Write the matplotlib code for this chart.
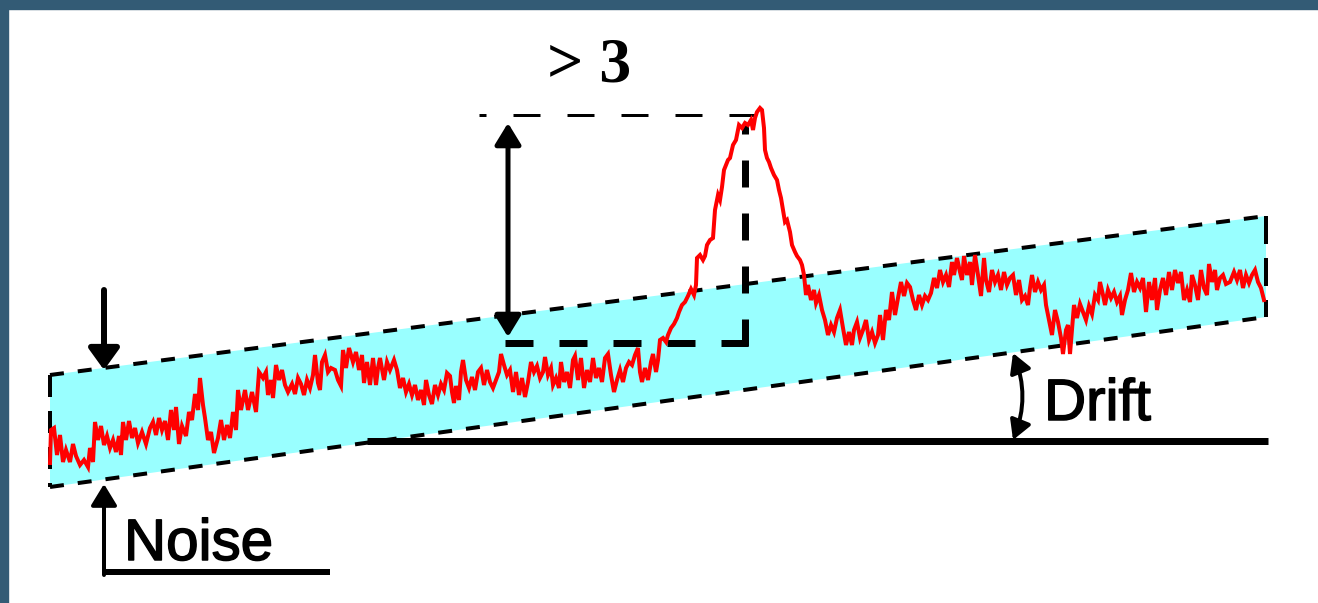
import matplotlib
matplotlib.use("Agg")
import matplotlib.pyplot as plt
import matplotlib.patheffects as pe
from matplotlib.patches import FancyArrowPatch, Rectangle

# ========================
# DATA (pixel units of the original drawing, y grows downward)
# ========================

# noisy detector trace with the peak
trace_x = [
    50, 51, 54, 57, 60, 63, 66, 70, 73, 76, 80, 84, 88, 90, 93, 95, 98, 101, 104, 107,
    110, 113, 116, 119, 121, 123, 126, 129, 132, 135, 138, 142, 146, 150, 153, 156, 159, 162, 165, 168,
    171, 174, 176, 179, 182, 186, 189, 192, 195, 198, 200, 203, 205, 208, 211, 214, 218, 221, 224, 227,
    230, 233, 236, 238, 241, 245, 248, 252, 256, 259, 263, 266, 268, 271,
    273, 276, 279, 282, 285, 288, 292, 295, 298, 301, 304, 307, 310, 313, 315, 318, 320, 322, 325, 328,
    331, 335, 338, 341, 343, 346, 349, 353, 356, 359, 362, 364, 367, 370, 373, 376, 378, 380, 384, 387,
    390, 394, 397, 400, 403, 406, 409, 412, 415, 418, 421, 424, 426, 429, 432, 435, 438, 441, 444, 447,
    450, 452, 454, 456, 459, 461, 463, 466, 469, 472, 475, 478,
    481, 484, 487, 490, 493, 496, 499, 501, 504, 507, 510, 513, 516, 519, 522, 525, 528, 531, 534, 537,
    540, 543, 545, 548, 551, 553, 556, 559, 561, 564, 567, 570, 573, 575, 578, 581, 584, 587, 590, 593,
    596, 599, 602, 605, 608, 611, 614, 617, 620, 623, 626, 629, 632, 635, 638, 640, 642, 645, 648, 651,
    653, 656, 658, 660, 663, 666, 668, 671, 674, 677, 679, 682, 685, 688, 691, 694, 696,
    697, 700, 703, 705, 707, 710, 713, 715, 718, 720, 722, 724, 726, 728, 730, 733, 736, 739, 742, 745,
    748, 751, 753, 755, 757, 760, 762, 764, 765, 767, 769, 771, 774, 777, 779, 781, 783, 785, 787, 790,
    792, 795, 797, 800, 802, 804, 806, 808, 811, 814, 816, 819, 822,
    825, 828, 831, 834, 837, 840, 843, 846, 849, 852, 854, 857, 860, 863, 866, 869, 872, 875, 878, 880,
    883, 886, 889, 892, 895, 898, 901, 904, 907, 910, 913, 916, 919, 922, 925, 928, 931, 934, 937, 940,
    943, 946, 949, 952, 954, 957, 960, 962, 964, 967, 970, 972, 975, 978, 981, 984, 986, 989, 992, 995,
    998, 1001, 1004, 1007, 1010, 1013, 1016, 1019, 1022, 1025, 1028,
    1030, 1032, 1035, 1038, 1041, 1044, 1046, 1049, 1052, 1055, 1058, 1061, 1063, 1066, 1068, 1070, 1072, 1074, 1077, 1080,
    1083, 1086, 1089, 1092, 1095, 1098, 1100, 1103, 1105, 1108, 1111, 1114, 1117, 1120, 1122, 1125, 1128, 1131, 1134, 1137,
    1140, 1143, 1146, 1149, 1152, 1155, 1157, 1160, 1163, 1166, 1169, 1172, 1175, 1178, 1181, 1184, 1187, 1190, 1192, 1195,
    1198, 1201, 1204, 1207, 1209, 1212, 1215, 1217, 1220, 1223, 1226, 1230, 1234, 1237, 1240, 1243, 1246, 1249, 1252, 1255,
    1258, 1261, 1264,
]
trace_y = [
    463, 430, 428, 455, 435, 462, 450, 462, 444, 456, 465, 460, 467, 448, 462, 422, 440, 426, 445, 436,
    448, 440, 452, 436, 455, 422, 440, 421, 438, 428, 443, 432, 444, 428, 422, 435, 418, 430, 421, 440,
    410, 430, 407, 444, 426, 436, 412, 420, 394, 410, 378, 405, 418, 440, 432, 453, 438, 420, 440, 425,
    438, 412, 430, 390, 410, 390, 410, 392, 412, 372, 378, 372, 395, 380,
    398, 365, 380, 370, 385, 392, 384, 394, 378, 384, 395, 380, 388, 375, 355, 383, 390, 362, 355, 372,
    368, 370, 380, 386, 350, 368, 348, 362, 352, 370, 355, 383, 362, 385, 358, 385, 368, 358, 380, 362,
    370, 360, 370, 388, 378, 392, 384, 395, 385, 400, 390, 405, 380, 395, 404, 385, 395, 384, 390, 373,
    376, 392, 403, 386, 400, 372, 360, 380, 388, 377, 390, 372,
    368, 385, 370, 382, 388, 380, 372, 354, 365, 375, 370, 392, 372, 395, 378, 397, 382, 362, 372, 366,
    378, 372, 357, 375, 368, 385, 378, 388, 362, 382, 372, 388, 360, 356, 380, 358, 388, 370, 382, 358,
    378, 368, 382, 358, 354, 375, 392, 380, 370, 382, 368, 362, 365, 355, 348, 372, 382, 368, 380, 362,
    354, 372, 360, 340, 338, 342, 335, 328, 324, 318, 312, 305, 302, 296, 289, 295, 285,
    258, 255, 260, 256, 245, 240, 238, 210, 195, 200, 187, 170, 165, 160, 158, 145, 140, 125, 128, 123,
    125, 120, 130, 118, 112, 108, 110, 128, 150, 158, 162, 168, 175, 180, 190, 198, 210, 222, 220, 232,
    245, 252, 256, 260, 265, 275, 295, 285, 300, 290, 303, 295, 310,
    320, 335, 325, 332, 318, 310, 328, 345, 332, 345, 330, 322, 338, 330, 320, 340, 332, 343, 335, 315,
    340, 310, 320, 292, 315, 298, 282, 296, 283, 287, 300, 310, 295, 305, 296, 300, 293, 278, 288, 270,
    282, 275, 287, 262, 275, 258, 272, 280, 256, 275, 262, 285, 255, 275, 296, 258, 280, 292, 270, 282,
    275, 290, 272, 285, 278, 275, 295, 280, 300, 296, 305,
    288, 275, 292, 282, 290, 285, 305, 320, 335, 310, 322, 338, 354, 330, 325, 354, 330, 305, 318, 304,
    312, 320, 306, 314, 295, 300, 282, 295, 305, 290, 298, 292, 302, 296, 315, 300, 290, 273, 292, 282,
    288, 278, 312, 282, 300, 278, 310, 290, 278, 295, 272, 290, 270, 283, 272, 300, 290, 302, 275, 285,
    300, 270, 288, 295, 264, 282, 270, 290, 278, 275, 284, 282, 272, 280, 270, 288, 275, 283, 275, 270,
    282, 288, 300,
]

# tilted noise band (x, upper y, lower y) at its two ends
band_x = [50, 1266]
band_top = [375, 216]
band_bottom = [487, 317]

# reference baseline and the "> 3" construction
baseline_x = [367, 1268]
baseline_y = 441
peak_level = 115
signal_base = 343
peak_x = 745
arrow_x = 508

# labels
label_noise = "Noise"
label_drift = "Drift"
label_ratio = "> 3"

# ========================
# STYLE
# ========================

W, H = 1318, 603
PX = 0.72  # pixels -> points at dpi 100
BAND_COLOR = "#99ffff"
TRACE_COLOR = "#ff0000"
FRAME_COLOR = "#335b75"

plt.rcParams.update({
    "lines.scale_dashes": False,
    "font.family": ["Liberation Sans", "DejaVu Sans"],
})

fig = plt.figure(figsize=(W / 100, H / 100), dpi=100)
ax = fig.add_axes([0, 0, 1, 1])
ax.set_xlim(0, W)
ax.set_ylim(H, 0)
ax.axis("off")

# frame on top and left
fig.patches.append(Rectangle((0, 1 - 9 / H), 1, 9 / H, transform=fig.transFigure,
                             color=FRAME_COLOR, zorder=10))
fig.patches.append(Rectangle((0, 0), 8 / W, 1, transform=fig.transFigure,
                             color=FRAME_COLOR, zorder=10))

# noise band
poly_x = [band_x[0], band_x[1], band_x[1], band_x[0]]
poly_y = [band_top[0], band_top[1], band_bottom[1], band_bottom[0]]
ax.fill(poly_x, poly_y, color=BAND_COLOR, lw=0, zorder=1)

edge_dash = (0, (14 * PX, 14 * PX))
ax.plot(band_x, band_top, color="black", lw=4 * PX, ls=edge_dash, zorder=2)
ax.plot(band_x, band_bottom, color="black", lw=4 * PX, ls=edge_dash, zorder=2)
ax.plot([band_x[0]] * 2, [band_top[0], band_bottom[0]], color="black", lw=4 * PX,
        ls=(0, (22 * PX, 14 * PX)), zorder=2)
ax.plot([band_x[1]] * 2, [band_top[1], band_bottom[1]], color="black", lw=4 * PX,
        ls=(0, (28 * PX, 14 * PX)), zorder=2)

# baseline
ax.plot(baseline_x, [baseline_y] * 2, color="black", lw=7 * PX,
        solid_capstyle="butt", zorder=2)

# "> 3" construction lines
ax.plot([479, 760], [peak_level] * 2, color="black", lw=3 * PX,
        ls=(20 * PX, (27 * PX, 27 * PX)), zorder=2)
ax.plot([505, peak_x + 3], [signal_base] * 2, color="black", lw=7 * PX,
        ls=(0, (28 * PX, 26 * PX)), zorder=2)
ax.plot([peak_x, peak_x], [signal_base + 3, 124], color="black", lw=7 * PX,
        ls=(0, (27 * PX, 26 * PX)), zorder=2)

# trace
ax.plot(trace_x, trace_y, color=TRACE_COLOR, lw=4 * PX, solid_joinstyle="miter", zorder=3)


def arrow(p0, p1, style, lw, hl, hw, rad=0.0):
    a = FancyArrowPatch(p0, p1, arrowstyle=f"{style},head_length={hl * PX},head_width={hw * PX}",
                        connectionstyle=f"arc3,rad={rad}", mutation_scale=1,
                        lw=lw * PX, color="black", shrinkA=0, shrinkB=0, zorder=4)
    ax.add_patch(a)


# signal height arrow
arrow((arrow_x, 123), (arrow_x, 337), "<|-|>", 5, 18, 11)

# noise arrows
arrow((104, 290), (104, 370), "-|>", 6, 18, 13)
arrow((104, 575), (104, 484), "-|>", 4, 18, 11)
ax.plot([104, 330], [572, 572], color="black", lw=6 * PX, solid_capstyle="butt", zorder=4)

# drift arrow
arrow((1013, 353), (1013, 440), "<|-|>", 4, 16, 9, rad=-0.2)

# labels, slightly thickened like the pixel font of the original
thick = [pe.withStroke(linewidth=1.5 * PX, foreground="black")]
ax.text(124, 560, label_noise, fontsize=42, ha="left", va="baseline", color="black",
        path_effects=thick)
t = ax.text(1044, 420, label_drift, fontsize=42, ha="left", va="baseline", color="black",
            path_effects=thick)
ax.text(547, 82, label_ratio, fontsize=46, ha="left", va="baseline", color="black",
        family=["Liberation Serif", "DejaVu Serif"], fontweight="bold")

fig.savefig("out.png", dpi=100, facecolor="white")
